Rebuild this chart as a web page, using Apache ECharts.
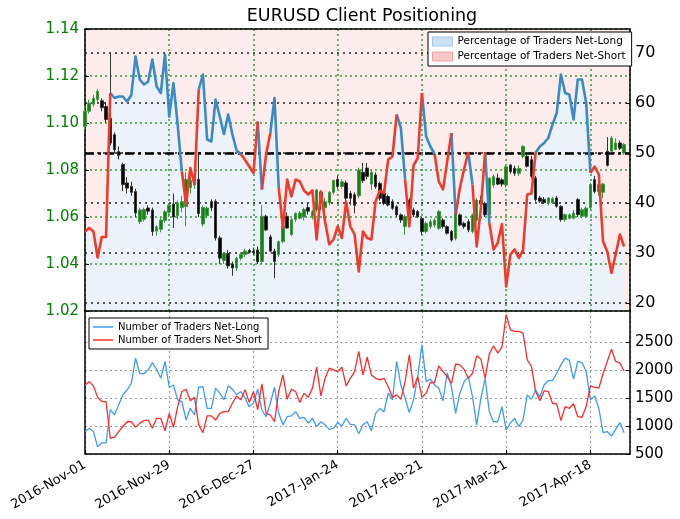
<!DOCTYPE html>
<html><head><meta charset="utf-8">
<script src="https://cdn.jsdelivr.net/npm/echarts@6/dist/echarts.min.js"></script>
<style>html,body{margin:0;padding:0;background:#fff}#c{width:680px;height:519px}</style>
</head><body><div id="c"></div>
<script>
// ---------------- DATA ----------------
const startDate = '2016-11-01';           // first trading day (weekdays only)
const neutralLevel = 50;

const pctNetLong = [34.3,35,34.3,29.1,33.2,33.2,62,61,61.3,61.3,60.3,61.6,69.3,64.7,63.7,64.3,68.7,63.3,62,69.7,
57.3,64,55.7,46.3,39.7,47,43.7,62.7,65.7,52.7,52.3,60.7,57.3,53.8,57.7,53.7,50.5,49.8,48.6,47.3,
46,56.3,42.7,49.7,54,61,43,35,44.7,41.3,44.7,44.3,42.5,41.7,42.5,32.7,42.3,36.3,31.7,32.7,
35.3,33,40.3,35.3,33.7,26.3,34.3,33,32.7,40.3,42.5,42,48.7,49.3,57.7,55,44.7,35.3,47.5,49,
62,53.3,51.3,49.8,44.3,42.7,48.3,54,37.7,43,46.7,50.2,43.7,31.3,39,50.2,36,30.7,32,35.8,
23.3,29.7,30.7,29,30.5,41.7,41.9,50.1,51.3,52,53,55.7,58,65.7,62,61.7,56.7,64.7,64.7,60,
46,47.3,45.7,32.3,30.3,26,29.7,33.7,31.3];

const tradersNetLong = [900,960,900,630,700,700,1290,1200,1375,1555,1645,1760,2210,1940,1930,2000,2130,2010,1850,2150,
1690,1730,1465,1435,1105,1315,1195,1690,1700,1315,1315,1675,1585,1465,1715,1655,1555,1615,1495,1345,
1405,1655,1285,1165,1405,1690,1225,1020,1165,1180,1255,1135,1155,1050,1135,990,1075,1020,940,960,
1060,1000,1135,1030,1020,860,1020,1075,915,1225,1315,1255,1585,1465,2150,1730,1495,1240,1465,1880,
2450,1790,1835,1730,1675,1450,1950,1700,1225,1585,1790,1880,1525,1020,1495,1850,1255,1075,1075,1345,
930,1050,1135,990,1105,1555,1475,1645,1515,1730,1810,1810,1940,2090,2210,2170,1835,2150,2130,1970,
1465,1535,1315,880,900,820,940,1060,880];

const tradersNetShort = [1730,1790,1715,1510,1435,1435,780,800,900,990,1075,1075,975,1050,1095,1105,960,1135,1135,915,
1225,975,1345,1615,1655,1450,1510,1020,880,1180,1180,1105,1225,1255,1255,1405,1535,1465,1645,1420,
1615,1285,1750,1225,1195,1075,1615,1910,1475,1655,1615,1420,1585,1510,1675,2050,1535,1850,2030,2000,
1970,2050,1715,1850,1970,2330,1910,2225,1910,1850,1820,1850,1700,1510,1555,1475,1790,2270,1675,1880,
1510,1585,1775,1775,2070,1970,1880,1760,2105,2090,2010,1850,1940,2250,2190,1850,2285,2430,2300,2405,
2985,2715,2685,2685,2655,2180,2060,1615,1450,1625,1615,1405,1395,1095,1345,1315,1395,1165,1155,1345,
1715,1690,1675,1930,2150,2370,2150,2120,1980];

const priceOpen = [1.0985,1.1050,1.1080,1.1100,1.1095,1.1070,1.1020,1.0950,1.0878,1.0823,1.0745,1.0730,1.0708,1.0580,1.0590,1.0638,1.0630,1.0540,1.0548,1.0585,
1.0620,1.0655,1.0605,1.0640,1.0645,1.0725,1.0740,1.0760,1.0570,1.0605,1.0665,1.0667,1.0511,1.0415,1.0445,1.0400,1.0383,1.0425,1.0440,1.0458,
1.0455,1.0460,1.0411,1.0603,1.0515,1.0455,1.0440,1.0495,1.0603,1.0525,1.0589,1.0595,1.0600,1.0640,1.0605,1.0630,1.0705,1.0640,1.0660,1.0705,
1.0760,1.0730,1.0745,1.0700,1.0695,1.0690,1.0790,1.0808,1.0740,1.0779,1.0743,1.0701,1.0687,1.0665,1.0644,1.0609,1.0559,1.0672,1.0630,1.0623,
1.0594,1.0538,1.0559,1.0566,1.0552,1.0587,1.0559,1.0538,1.0509,1.0609,1.0573,1.0580,1.0538,1.0587,1.0670,1.0658,1.0609,1.0736,1.0766,1.0758,
1.0736,1.0821,1.0807,1.0786,1.0858,1.0858,1.0844,1.0766,1.0681,1.0675,1.0660,1.0662,1.0681,1.0645,1.0589,1.0595,1.0595,1.0674,1.0603,1.0603,
1.0639,1.0759,1.0709,1.0705,1.0880,1.0880,1.0887,1.0915,1.0872];
const priceHigh = [1.1075,1.1100,1.1120,1.1145,1.1105,1.1090,1.1298,1.0960,1.0900,1.0830,1.0770,1.0750,1.0720,1.0640,1.0640,1.0650,1.0640,1.0565,1.0595,1.0630,
1.0660,1.0700,1.0670,1.0690,1.0790,1.0770,1.0775,1.0875,1.0650,1.0645,1.0675,1.0675,1.0520,1.0450,1.0460,1.0410,1.0430,1.0450,1.0465,1.0465,
1.0470,1.0475,1.0650,1.0610,1.0525,1.0465,1.0500,1.0560,1.0620,1.0595,1.0620,1.0625,1.0640,1.0660,1.0630,1.0720,1.0712,1.0680,1.0710,1.0760,
1.0775,1.0760,1.0755,1.0710,1.0705,1.0810,1.0830,1.0830,1.0800,1.0790,1.0750,1.0710,1.0695,1.0675,1.0650,1.0615,1.0610,1.0680,1.0640,1.0630,
1.0600,1.0580,1.0590,1.0595,1.0630,1.0595,1.0565,1.0545,1.0625,1.0615,1.0580,1.0590,1.0615,1.0680,1.0690,1.0665,1.0770,1.0780,1.0785,1.0765,
1.0820,1.0825,1.0818,1.0820,1.0905,1.0870,1.0860,1.0775,1.0690,1.0685,1.0685,1.0685,1.0690,1.0650,1.0615,1.0615,1.0630,1.0680,1.0640,1.0645,
1.0745,1.0775,1.0745,1.0745,1.0940,1.0945,1.0935,1.0925,1.0915];
const priceLow = [1.0970,1.1040,1.1070,1.1090,1.1050,1.1000,1.0905,1.0870,1.0845,1.0710,1.0700,1.0690,1.0600,1.0570,1.0580,1.0610,1.0520,1.0520,1.0535,1.0575,
1.0600,1.0553,1.0590,1.0620,1.0560,1.0700,1.0720,1.0600,1.0560,1.0595,1.0625,1.0500,1.0400,1.0400,1.0380,1.0350,1.0370,1.0415,1.0430,1.0445,
1.0440,1.0400,1.0400,1.0540,1.0450,1.0340,1.0430,1.0490,1.0550,1.0520,1.0580,1.0590,1.0585,1.0610,1.0590,1.0620,1.0630,1.0620,1.0650,1.0695,
1.0720,1.0720,1.0660,1.0650,1.0615,1.0680,1.0745,1.0760,1.0715,1.0720,1.0670,1.0650,1.0645,1.0630,1.0600,1.0575,1.0524,1.0620,1.0600,1.0595,
1.0525,1.0530,1.0550,1.0555,1.0545,1.0550,1.0525,1.0495,1.0500,1.0560,1.0550,1.0535,1.0530,1.0580,1.0640,1.0600,1.0600,1.0725,1.0735,1.0730,
1.0725,1.0785,1.0775,1.0775,1.0850,1.0810,1.0765,1.0665,1.0660,1.0655,1.0650,1.0655,1.0640,1.0580,1.0580,1.0590,1.0590,1.0600,1.0595,1.0595,
1.0630,1.0700,1.0690,1.0680,1.0815,1.0875,1.0885,1.0885,1.0865];
const priceClose = [1.1050,1.1085,1.1105,1.1135,1.1065,1.1015,1.0915,1.0886,1.0862,1.0738,1.0723,1.0705,1.0617,1.0630,1.0632,1.0625,1.0538,1.0558,1.0587,1.0622,
1.0650,1.0600,1.0660,1.0665,1.0760,1.0755,1.0760,1.0615,1.0640,1.0638,1.0640,1.0511,1.0425,1.0445,1.0392,1.0383,1.0425,1.0440,1.0455,1.0450,
1.0448,1.0410,1.0603,1.0545,1.0455,1.0411,1.0495,1.0560,1.0553,1.0589,1.0615,1.0617,1.0632,1.0625,1.0622,1.0715,1.0660,1.0665,1.0705,1.0755,
1.0730,1.0750,1.0680,1.0680,1.0650,1.0800,1.0755,1.0773,1.0790,1.0729,1.0680,1.0658,1.0651,1.0637,1.0609,1.0587,1.0602,1.0630,1.0609,1.0601,
1.0538,1.0573,1.0580,1.0587,1.0623,1.0559,1.0531,1.0502,1.0616,1.0566,1.0559,1.0545,1.0609,1.0672,1.0655,1.0609,1.0765,1.0772,1.0740,1.0740,
1.0814,1.0793,1.0786,1.0807,1.0901,1.0816,1.0773,1.0674,1.0667,1.0661,1.0681,1.0678,1.0646,1.0589,1.0610,1.0609,1.0617,1.0610,1.0631,1.0638,
1.0738,1.0709,1.0738,1.0740,1.0820,1.0936,1.0915,1.0893,1.0908];

const priceTicks = [1.02, 1.14, 0.02];     // min, max, step (left axis)
const pctTicks = [20, 30, 40, 50, 60, 70];
const countTicks = [500, 1000, 1500, 2000, 2500];
const dateTickStep = 20;

// ---------------- HELPERS ----------------
const MON = ['Jan','Feb','Mar','Apr','May','Jun','Jul','Aug','Sep','Oct','Nov','Dec'];
function weekdayLabels(start, n) {
  const out = []; const d = new Date(start + 'T00:00:00Z');
  while (out.length < n) {
    const wd = d.getUTCDay();
    if (wd !== 0 && wd !== 6) out.push(d.getUTCFullYear() + '-' + MON[d.getUTCMonth()] + '-' + String(d.getUTCDate()).padStart(2, '0'));
    d.setUTCDate(d.getUTCDate() + 1);
  }
  return out;
}
const dates = weekdayLabels(startDate, priceClose.length);
function dateLabel(v) {
  const r = Math.round(v);
  return (Math.abs(v - r) < 1e-6 && dates[r]) ? dates[r] : '';
}
// line runs coloured by the value at the start of each segment
function segmentRuns(vals, wantAbove) {
  const out = []; let inRun = false;
  for (let i = 0; i < vals.length - 1; i++) {
    const above = vals[i] >= neutralLevel;
    if (above === wantAbove) {
      if (!inRun) { out.push([i, vals[i]]); inRun = true; }
      out.push([i + 1, vals[i + 1]]);
    } else if (inRun) { out.push([i, '-']); inRun = false; }
  }
  return out;
}
const pctPairs = pctNetLong.map((v, i) => [i, v]);
const longPairs = tradersNetLong.map((v, i) => [i, v]);
const shortPairs = tradersNetShort.map((v, i) => [i, v]);
const candleData = priceOpen.map((o, i) => [i, o, priceClose[i], priceLow[i], priceHigh[i]]);

// ---------------- CHART ----------------
const FONT = 'DejaVu Sans';
const xMax = 129.4;
const frame = { show: true, onZero: false, lineStyle: { color: '#000', width: 1.5 } };
const xBase = { type: 'value', min: 0, max: xMax, interval: dateTickStep, z: 2 };

const chart = echarts.init(document.getElementById('c'), null, { renderer: 'canvas' });
chart.setOption({
  animation: false,
  textStyle: { fontFamily: FONT },
  title: { text: 'EURUSD Client Positioning', left: 357, top: 2, textAlign: 'center',
    textStyle: { fontSize: 17.5, fontWeight: 'normal', color: '#000', fontFamily: FONT } },
  grid: [
    { left: 85, right: 50, top: 29, height: 282, show: true, backgroundColor: '#fcecec', borderWidth: 0 },
    { left: 85, right: 50, top: 311, height: 143, show: true, backgroundColor: '#fff', borderWidth: 0 }
  ],
  legend: [
    { left: 428, top: 32, orient: 'vertical', selectedMode: false, z: 20,
      backgroundColor: '#fff', borderColor: '#000', borderWidth: 1, borderRadius: 0,
      padding: [4, 6, 4, 4], itemGap: 4, itemWidth: 20, itemHeight: 9,
      textStyle: { fontSize: 10.5, color: '#000', fontFamily: FONT },
      data: [
        { name: 'Percentage of Traders Net-Long', icon: 'rect', itemStyle: { color: '#cde1f4', borderColor: '#a5c8ea', borderWidth: 1 } },
        { name: 'Percentage of Traders Net-Short', icon: 'rect', itemStyle: { color: '#f8c8c8', borderColor: '#f0a0a0', borderWidth: 1 } }
      ] },
    { left: 89, top: 318, orient: 'vertical', selectedMode: false, z: 20,
      backgroundColor: '#fff', borderColor: '#000', borderWidth: 1, borderRadius: 0,
      padding: [4, 6, 4, 4], itemGap: 3, itemWidth: 20, itemHeight: 1.5,
      textStyle: { fontSize: 10, color: '#000', fontFamily: FONT },
      data: [
        { name: 'Number of Traders Net-Long', icon: 'rect' },
        { name: 'Number of Traders Net-Short', icon: 'rect' }
      ] }
  ],
  xAxis: [
    Object.assign({}, xBase, { gridIndex: 0, position: 'bottom', axisLine: frame, axisTick: { show: false }, axisLabel: { show: false },
      splitLine: { show: true, lineStyle: { color: '#3a9a3a', type: [2, 3], width: 1.5 } } }),
    Object.assign({}, xBase, { gridIndex: 0, position: 'top', axisLine: frame, axisTick: { show: false }, axisLabel: { show: false }, splitLine: { show: false } }),
    Object.assign({}, xBase, { gridIndex: 1, position: 'bottom', axisLine: frame,
      axisTick: { show: true, inside: true, length: 4, lineStyle: { color: '#000' } },
      axisLabel: { rotate: 30, fontSize: 13, color: '#000', margin: 10, showMaxLabel: false, formatter: dateLabel },
      splitLine: { show: true, lineStyle: { color: '#9a9a9a', type: [2, 3], width: 1.2 } } })
  ],
  yAxis: [
    { gridIndex: 0, type: 'value', position: 'left', min: priceTicks[0], max: priceTicks[1], interval: priceTicks[2], z: 2,
      axisLine: frame, axisTick: { show: true, inside: true, length: 4, lineStyle: { color: '#000' } },
      axisLabel: { color: '#008000', fontSize: 15, margin: 6, formatter: v => v.toFixed(2) },
      splitLine: { show: true, lineStyle: { color: '#3a9a3a', type: [2, 3], width: 1.5 } } },
    { gridIndex: 0, type: 'value', position: 'right', min: 18.4, max: 74.8, z: 2,
      axisLine: frame, axisTick: { show: true, inside: true, length: 4, customValues: pctTicks, lineStyle: { color: '#000' } },
      axisLabel: { customValues: pctTicks, fontSize: 16, color: '#000', margin: 5, formatter: v => String(v) },
      splitLine: { show: true, lineStyle: { color: '#222', type: [2, 4], width: 1.5 } } },
    { gridIndex: 1, type: 'value', position: 'right', min: 500, max: 3050, z: 2,
      axisLine: frame, axisTick: { show: true, inside: true, length: 4, customValues: countTicks, lineStyle: { color: '#000' } },
      axisLabel: { customValues: countTicks, fontSize: 15, color: '#000', margin: 5, formatter: v => String(v) },
      splitLine: { show: true, lineStyle: { color: '#9a9a9a', type: [2, 3], width: 1.2 } } },
    { gridIndex: 1, type: 'value', position: 'left', min: 500, max: 3050, z: 2,
      axisLine: frame, axisTick: { show: false }, axisLabel: { show: false }, splitLine: { show: false } }
  ],
  series: [
    { name: 'Percentage of Traders Net-Long', type: 'line', xAxisIndex: 0, yAxisIndex: 1, data: pctPairs,
      symbol: 'none', showSymbol: false, silent: true, z: 1,
      lineStyle: { width: 0 }, itemStyle: { color: '#cde1f4' },
      areaStyle: { color: '#ebf2f9', opacity: 1, origin: 'start' } },
    { name: 'Percentage of Traders Net-Short', type: 'line', xAxisIndex: 0, yAxisIndex: 1, data: [],
      itemStyle: { color: '#f8c8c8' }, z: 1 },
    { name: 'EURUSD', type: 'candlestick', xAxisIndex: 0, yAxisIndex: 0, data: candleData,
      encode: { x: 0, y: [1, 2, 3, 4] }, barWidth: 3, z: 3,
      itemStyle: { color: '#178017', color0: '#000', borderColor: '#3f9a3f', borderColor0: '#333', borderWidth: 1 } },
    { name: 'neutral', type: 'line', xAxisIndex: 0, yAxisIndex: 1, data: [], z: 4,
      markLine: { silent: true, symbol: 'none', label: { show: false },
        lineStyle: { color: '#000', type: [9, 4, 3, 4], width: 2.5 }, data: [{ yAxis: neutralLevel }] } },
    { name: 'pctAbove', type: 'line', xAxisIndex: 0, yAxisIndex: 1, data: segmentRuns(pctNetLong, true),
      symbol: 'none', showSymbol: false, connectNulls: false, z: 5,
      lineStyle: { color: '#3b8ac4', width: 2.6, join: 'round' } },
    { name: 'pctBelow', type: 'line', xAxisIndex: 0, yAxisIndex: 1, data: segmentRuns(pctNetLong, false),
      symbol: 'none', showSymbol: false, connectNulls: false, z: 5,
      lineStyle: { color: '#ee3b2b', width: 2.6, join: 'round' } },
    { name: 'Number of Traders Net-Long', type: 'line', xAxisIndex: 2, yAxisIndex: 2, data: longPairs,
      symbol: 'none', showSymbol: false, z: 3, itemStyle: { color: '#3d9df5' },
      lineStyle: { color: '#3d9df5', width: 1.3 } },
    { name: 'Number of Traders Net-Short', type: 'line', xAxisIndex: 2, yAxisIndex: 2, data: shortPairs,
      symbol: 'none', showSymbol: false, z: 3, itemStyle: { color: '#ff2a2a' },
      lineStyle: { color: '#ff2a2a', width: 1.3 } }
  ]
});
</script>
</body></html>
